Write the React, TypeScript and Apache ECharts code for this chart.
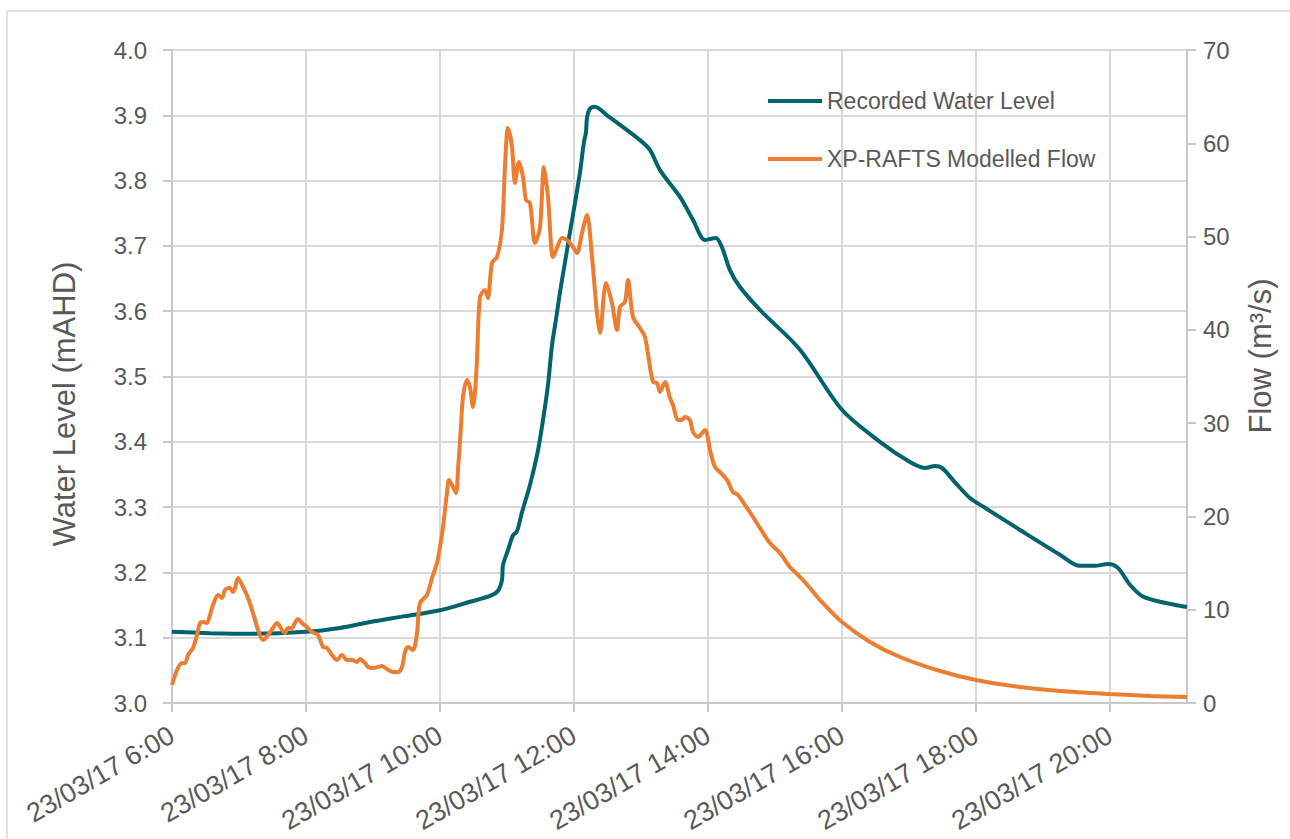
import React, { useEffect, useRef } from "react";
import * as echarts from "echarts";

// Recorded water level (hours of 23/03/17, mAHD)
const levelHours = [
  6.0, 6.567, 7.164, 8.0, 8.507, 8.955, 9.478, 10.0, 10.448, 10.746, 10.866, 10.925, 10.94,
  11.015, 11.09, 11.149, 11.224, 11.343, 11.463, 11.537, 11.612, 11.672, 11.731, 11.791,
  11.866, 11.94, 12.015, 12.09, 12.149, 12.179, 12.194, 12.239, 12.313, 12.493, 12.985,
  13.134, 13.284, 13.582, 13.776, 13.955, 14.045, 14.119, 14.209, 14.328, 14.478, 14.776,
  15.373, 16.0, 16.567, 17.015, 17.239, 17.388, 17.493, 17.687, 17.91, 18.134, 18.657,
  19.254, 19.552, 19.776, 19.97, 20.119, 20.299, 20.478, 20.746, 21.149,
];
const levelValues = [
  3.109, 3.107, 3.106, 3.109, 3.115, 3.124, 3.133, 3.142, 3.155, 3.164, 3.172, 3.188, 3.211,
  3.234, 3.257, 3.263, 3.292, 3.334, 3.387, 3.433, 3.487, 3.548, 3.587, 3.629,
  3.675, 3.721, 3.766, 3.813, 3.859, 3.874, 3.896, 3.91, 3.913, 3.9, 3.862,
  3.847, 3.816, 3.775, 3.74, 3.709, 3.711, 3.712, 3.698, 3.663, 3.637, 3.602,
  3.541, 3.449, 3.4, 3.369, 3.36, 3.363, 3.36, 3.338, 3.314, 3.299, 3.265,
  3.227, 3.21, 3.21, 3.213, 3.207, 3.181, 3.164, 3.155, 3.147,
];

// XP-RAFTS modelled flow (hours, m3/s)
const flowHours = [
  6.0, 6.075, 6.149, 6.194, 6.239, 6.313, 6.373, 6.418, 6.463, 6.522, 6.567, 6.612, 6.687,
  6.746, 6.791, 6.866, 6.91, 6.94, 6.985, 7.06, 7.134, 7.209, 7.284, 7.358, 7.433, 7.507,
  7.567, 7.642, 7.687, 7.731, 7.791, 7.836, 7.881, 7.94, 8.015, 8.09, 8.179, 8.254, 8.313,
  8.388, 8.463, 8.537, 8.612, 8.687, 8.761, 8.806, 8.881, 8.925, 9.0, 9.075, 9.134, 9.209,
  9.299, 9.373, 9.433, 9.478, 9.522, 9.597, 9.657, 9.701, 9.806, 9.881, 9.955, 10.0, 10.045,
  10.104, 10.134, 10.179, 10.239, 10.269, 10.313, 10.343, 10.403, 10.448, 10.493, 10.522,
  10.552, 10.597, 10.672, 10.716, 10.776, 10.851, 10.925, 10.97, 11.015, 11.075, 11.119,
  11.179, 11.239, 11.284, 11.343, 11.418, 11.493, 11.552, 11.612, 11.687, 11.746, 11.821,
  11.896, 11.985, 12.045, 12.119, 12.194, 12.269, 12.343, 12.388, 12.478, 12.567, 12.642,
  12.687, 12.761, 12.806, 12.881, 12.985, 13.06, 13.179, 13.239, 13.284, 13.358, 13.433,
  13.478, 13.552, 13.612, 13.657, 13.731, 13.776, 13.851, 13.955, 14.03, 14.104, 14.179,
  14.284, 14.373, 14.448, 14.582, 14.672, 14.776, 14.925, 15.075, 15.224, 15.373, 15.522,
  15.672, 16.0, 16.418, 16.866, 17.463, 18.0, 18.657, 19.254, 20.0, 20.597, 21.149,
];
const flowValues = [
  1.93, 3.54, 4.29, 4.29, 5.15, 5.9, 7.29, 8.58, 8.68, 8.58, 9.43, 10.51, 11.58,
  11.26, 12.11, 12.33, 11.9, 12.33, 13.4, 12.44, 11.26, 9.65, 7.83, 6.75, 7.29, 8.04,
  8.58, 7.83, 7.5, 8.04, 8.04, 8.58, 9.0, 8.58, 8.15, 7.61, 7.29, 6.0, 5.9,
  5.15, 4.61, 5.15, 4.61, 4.61, 4.4, 4.72, 4.29, 3.86, 3.75, 3.86, 3.97, 3.64,
  3.32, 3.32, 3.86, 5.47, 6.0, 5.68, 7.5, 10.72, 11.58, 13.4, 15.01, 16.72, 18.87,
  22.51, 23.91, 23.37, 22.51, 24.98, 29.59, 32.8, 34.63, 33.87, 31.73, 33.23,
  36.77, 43.52, 44.27, 43.42, 47.17, 47.81, 50.71, 57.46, 61.64, 59.6, 55.74,
  58.0, 56.39, 53.92, 53.6, 49.31, 51.03, 57.46, 54.24, 47.81, 48.78, 49.85,
  49.63, 48.88, 48.24, 50.38, 52.31, 47.81, 41.81, 39.66, 45.02, 42.88, 39.99,
  42.45, 42.99, 45.35, 41.38, 40.2, 39.24, 34.41, 34.3, 33.34, 34.41, 32.7,
  31.95, 30.34, 30.34, 30.66, 30.34, 29.05, 28.52, 29.27, 27.12, 25.3, 24.76,
  23.91, 22.62, 22.3, 20.9, 19.94, 18.76, 17.15, 16.08, 14.58, 13.51, 12.33,
  11.04, 8.68, 6.54, 4.93, 3.43, 2.47, 1.72, 1.29, 0.96, 0.75, 0.64,
];

const seriesNames = ["Recorded Water Level", "XP-RAFTS Modelled Flow"];
const datePrefix = "23/03/17";

const TXT = "#595959";
const GRID = "#d9d9d9";
const AXIS = "#c9c9c9";
const TEAL = "#02636d";
const ORANGE = "#ed7d31";
const FONT = "Liberation Sans, Arial, sans-serif";

export default function App() {
  const ref = useRef<HTMLDivElement>(null);
  useEffect(() => {
    if (!ref.current) return;
    const chart = echarts.init(ref.current, null, { renderer: "svg" });
    const levelData = levelHours.map((h, i) => [h, levelValues[i]]);
    const flowData = flowHours.map((h, i) => [h, flowValues[i]]);
    chart.setOption({
      animation: false,
      backgroundColor: "#ffffff",
      textStyle: { fontFamily: FONT },
      grid: { left: 172, right: 103, top: 50, bottom: 136, outerBoundsMode: "none" },
      legend: {
        orient: "vertical",
        left: 763,
        top: 84,
        itemWidth: 54,
        itemHeight: 4,
        itemGap: 34,
        icon: "rect",
        textStyle: { fontSize: 23, color: TXT, fontFamily: FONT, lineHeight: 24 },
        data: [
          { name: seriesNames[0], itemStyle: { color: TEAL } },
          { name: seriesNames[1], itemStyle: { color: ORANGE } },
        ],
      },
      graphic: [
        {
          type: "rect",
          shape: { x: 7, y: 11, width: 1300, height: 900 },
          style: { fill: "none", stroke: GRID, lineWidth: 1.5 },
          silent: true,
        },
        {
          type: "text",
          x: 64,
          y: 404,
          rotation: Math.PI / 2,
          style: {
            text: "Water Level (mAHD)",
            fontSize: 31,
            fill: TXT,
            fontFamily: FONT,
            align: "center",
            verticalAlign: "middle",
          },
        },
        {
          type: "text",
          x: 1260,
          y: 356,
          rotation: Math.PI / 2,
          style: {
            text: "Flow (m³/s)",
            fontSize: 31,
            fill: TXT,
            fontFamily: FONT,
            align: "center",
            verticalAlign: "middle",
          },
        },
      ],
      xAxis: {
        type: "value",
        min: 6,
        max: 21.15,
        interval: 2,
        axisLine: { show: true, onZero: false, lineStyle: { color: AXIS, width: 2 } },
        axisTick: { show: true, length: 9, lineStyle: { color: AXIS, width: 2 } },
        splitLine: { show: true, lineStyle: { color: GRID, width: 2 } },
        axisLabel: {
          rotate: 30,
          margin: 30,
          fontSize: 27,
          color: TXT,
          fontFamily: FONT,
          showMaxLabel: false,
          formatter: (v: number) => `${datePrefix} ${Math.round(v)}:00`,
        },
      },
      yAxis: [
        {
          type: "value",
          position: "left",
          min: 3.0,
          max: 4.0,
          interval: 0.1,
          axisLine: { show: true, lineStyle: { color: AXIS, width: 2 } },
          axisTick: { show: true, length: 9, lineStyle: { color: AXIS, width: 2 } },
          splitLine: { show: true, lineStyle: { color: GRID, width: 2 } },
          axisLabel: {
            margin: 25,
            fontSize: 24,
            color: TXT,
            fontFamily: FONT,
            formatter: (v: number) => v.toFixed(1),
          },
        },
        {
          type: "value",
          position: "right",
          min: 0,
          max: 70,
          interval: 10,
          axisLine: { show: true, lineStyle: { color: AXIS, width: 2 } },
          axisTick: { show: true, length: 9, lineStyle: { color: AXIS, width: 2 } },
          splitLine: { show: false },
          axisLabel: { margin: 16, fontSize: 24, color: TXT, fontFamily: FONT },
        },
      ],
      series: [
        {
          name: seriesNames[0],
          type: "line",
          yAxisIndex: 0,
          data: levelData,
          symbol: "none",
          smooth: 0.3,
          lineStyle: { color: TEAL, width: 4 },
          itemStyle: { color: TEAL },
          z: 3,
        },
        {
          name: seriesNames[1],
          type: "line",
          yAxisIndex: 1,
          data: flowData,
          symbol: "none",
          smooth: 0.3,
          lineStyle: { color: ORANGE, width: 4 },
          itemStyle: { color: ORANGE },
          z: 4,
        },
      ],
    });
    return () => chart.dispose();
  }, []);
  return (
    <div
      ref={ref}
      style={{ position: "absolute", left: 0, top: 0, width: 1290, height: 839 }}
    />
  );
}
